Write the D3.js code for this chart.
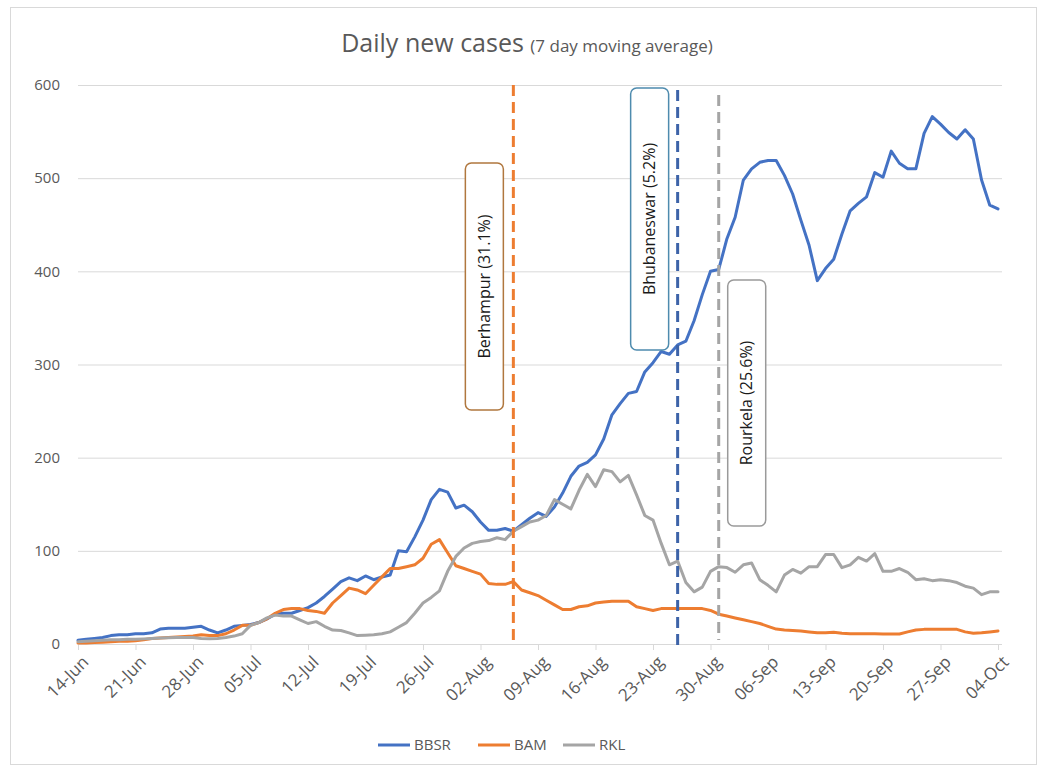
<!DOCTYPE html>
<html>
<head>
<meta charset="utf-8">
<script src="https://cdn.jsdelivr.net/npm/d3@7"></script>
<style>
  html, body { margin: 0; padding: 0; background: #ffffff; }
  svg { display: block; }
  text { font-family: "Open Sans", "Noto Sans", sans-serif; }
</style>
</head>
<body>
<svg id="chart" width="1045" height="773"></svg>
<script>
// Daily new cases, 7-day moving average, one value per day from 14-Jun
const startDate = "14-Jun-2020";
const bbsr = [4, 5, 6, 7, 9, 10, 10, 11, 11, 12, 16, 17, 17, 17, 18, 19, 15, 12, 15, 19,
  20, 21, 23, 27, 32, 33, 33, 36, 39, 44, 51, 59, 67, 71, 68, 73, 69, 72, 74, 100,
  99, 115, 133, 155, 166, 163, 146, 149, 142, 131, 122, 122, 124, 121, 128, 135, 141, 137, 147, 162,
  180, 191, 195, 203, 220, 246, 258, 269, 271, 292, 302, 314, 311, 321, 325, 347, 375, 400, 402, 435,
  458, 498, 510, 517, 519, 519, 503, 483, 455, 428, 390, 403, 413, 440, 465, 473, 480, 506, 501, 529,
  516, 510, 510, 548, 566, 558, 549, 542, 552, 542, 498, 471, 467];
const bam = [1, 1, 1.5, 2, 2.5, 3, 3, 3.5, 4.5, 6, 6.5, 7, 7.5, 8, 8.6, 10, 9, 9, 11, 15,
  20, 20, 23, 27, 33, 37, 38, 38, 36, 35, 33, 44, 52, 60, 58, 54, 63, 72, 81, 81,
  83, 85, 92, 107, 112, 98, 84, 81, 78, 75, 65, 64, 64, 67, 58, 55, 52, 47, 42, 37,
  37, 40, 41, 44, 45, 46, 46, 46, 40, 38, 36, 38, 38, 38, 38, 38, 38, 36, 32, 30,
  28, 26, 24, 22, 19, 16, 15, 14.5, 14, 13, 12, 12, 12.5, 11.5, 11, 11, 11, 11, 10.7, 10.7,
  10.7, 13, 15, 15.7, 15.7, 15.7, 15.7, 15.7, 13, 11.5, 12, 13, 14];
const rkl = [2.5, 3, 3.5, 4, 4.5, 4.5, 5, 5, 5.5, 6, 6.5, 6.8, 7, 7, 7, 6, 5.7, 6, 7, 8.5,
  11, 20, 23, 28, 31, 30, 30, 26, 22, 24, 19, 15, 14.5, 12, 9, 9.5, 10, 11, 13, 18,
  23, 33, 44, 50, 57, 78, 94, 103, 108, 110, 111, 114, 112, 121, 126, 131, 133, 138, 155, 150,
  145, 165, 182, 169, 187, 185, 174, 181, 160, 138, 133, 108, 85, 89, 66, 56, 61, 78, 83, 82,
  77, 85, 87, 69, 63, 56, 74, 80, 76, 83, 83, 96, 96, 82, 85, 93, 89, 97, 78, 78,
  81, 77, 69, 70, 68, 69, 68, 66, 62, 60, 53, 56, 56];

const seriesNames = ["BBSR", "BAM", "RKL"];
const seriesColors = ["#4472C4", "#ED7D31", "#A5A5A5"];

const tickLabels = ["14-Jun", "21-Jun", "28-Jun", "05-Jul", "12-Jul", "19-Jul", "26-Jul",
  "02-Aug", "09-Aug", "16-Aug", "23-Aug", "30-Aug", "06-Sep", "13-Sep", "20-Sep", "27-Sep", "04-Oct"];
const yTicks = [0, 100, 200, 300, 400, 500, 600];

// Dates when each city's marker line is drawn, with its label
const markerNames = ["Berhampur (31.1%)", "Bhubaneswar (5.2%)", "Rourkela (25.6%)"];
const markerDates = ["06-Aug", "26-Aug", "31-Aug"];
const markerColors = ["#ED7D31", "#3D63A8", "#A5A5A5"];
const markerBorders = ["#B0773E", "#4E8BAE", "#9A9A9A"];

const parseDay = d3.timeParse("%d-%b-%Y");
const day0 = parseDay(startDate);
const dates = bbsr.map((_, i) => d3.timeDay.offset(day0, i));
const asDate = s => parseDay(s + "-2020");

const svg = d3.select("#chart");

// chart area border
svg.append("rect")
  .attr("x", 10.5).attr("y", 7.5).attr("width", 1026).attr("height", 757)
  .attr("fill", "#fff").attr("stroke", "#d9d9d9").attr("stroke-width", 1);

const plot = { left: 78, right: 998, top: 85, bottom: 644 };

const x = d3.scaleTime()
  .domain([asDate(tickLabels[0]), asDate(tickLabels[tickLabels.length - 1])])
  .range([plot.left, plot.right]);
const y = d3.scaleLinear().domain([0, 600]).range([plot.bottom, plot.top]);

// title
const title = svg.append("text")
  .attr("x", 527).attr("y", 52)
  .attr("text-anchor", "middle")
  .attr("fill", "#595959");
title.append("tspan").attr("font-size", 25).text("Daily new cases ");
title.append("tspan").attr("font-size", 17).text("(7 day moving average)");

// horizontal gridlines + y labels
const yAxis = d3.axisLeft(y).tickValues(yTicks).tickSize(-(plot.right + 4 - plot.left)).tickPadding(18);
const gy = svg.append("g").attr("transform", `translate(${plot.left},0)`).call(yAxis);
gy.select(".domain").remove();
gy.selectAll(".tick line").attr("stroke", "#d9d9d9").attr("stroke-width", 1);
gy.selectAll(".tick text")
  .attr("fill", "#595959").attr("font-size", 15)
  .attr("font-family", "'Open Sans', sans-serif");

// x axis with rotated date labels
const xAxis = d3.axisBottom(x)
  .tickValues(tickLabels.map(asDate))
  .tickFormat((d, i) => tickLabels[i])
  .tickSize(6).tickSizeOuter(0).tickPadding(4);
const gx = svg.append("g").attr("transform", `translate(0,${plot.bottom})`).call(xAxis);
gx.select(".domain").attr("stroke", "#d9d9d9").attr("d", `M${plot.left},0.5H${plot.right + 4}`);
gx.selectAll(".tick line").attr("stroke", "#d9d9d9");
gx.selectAll(".tick text")
  .attr("fill", "#595959").attr("font-size", 17)
  .attr("font-family", "'Open Sans', sans-serif")
  .attr("text-anchor", "end")
  .attr("dy", "0.35em")
  .attr("transform", "translate(7,15) rotate(-45)")
  .attr("y", 0).attr("x", 0);

// series lines
const line = d3.line().x((d, i) => x(dates[i])).y(d => y(d));
[bbsr, bam, rkl].forEach((vals, k) => {
  svg.append("path")
    .datum(vals)
    .attr("fill", "none")
    .attr("stroke", seriesColors[k])
    .attr("stroke-width", 3)
    .attr("stroke-linejoin", "round")
    .attr("stroke-linecap", "round")
    .attr("d", line);
});

// dashed marker lines and their labelled boxes
const markerSpan = [[85, 640], [90, 648], [95, 640]];
const boxLayout = [
  { dx: -48, top: 163, bottom: 410 },
  { dx: -47, top: 88, bottom: 350 },
  { dx: 9, top: 280, bottom: 526 }
];
markerDates.forEach((ds, k) => {
  const mx = x(asDate(ds));
  svg.append("line")
    .attr("x1", mx).attr("x2", mx)
    .attr("y1", markerSpan[k][0]).attr("y2", markerSpan[k][1])
    .attr("stroke", markerColors[k]).attr("stroke-width", 3)
    .attr("stroke-dasharray", "11,6");
  const b = boxLayout[k];
  const bx = mx + b.dx;
  svg.append("rect")
    .attr("x", bx).attr("y", b.top)
    .attr("width", 38).attr("height", b.bottom - b.top)
    .attr("rx", 6).attr("ry", 6)
    .attr("fill", "#ffffff")
    .attr("stroke", markerBorders[k]).attr("stroke-width", 1.5);
  const cx = bx + 19, cy = (b.top + b.bottom) / 2;
  svg.append("text")
    .attr("transform", `translate(${cx},${cy}) rotate(-90)`)
    .attr("text-anchor", "middle").attr("dy", "0.35em")
    .attr("font-size", 16).attr("fill", "#1a1a1a")
    .text(markerNames[k]);
});

// legend
const legendX = [378, 478, 563];
seriesNames.forEach((name, k) => {
  const g = svg.append("g").attr("transform", `translate(${legendX[k]},745)`);
  g.append("line").attr("x1", 0).attr("x2", 32).attr("y1", 0).attr("y2", 0)
    .attr("stroke", seriesColors[k]).attr("stroke-width", 3);
  g.append("text").attr("x", 36).attr("dy", "0.35em")
    .attr("font-size", 15).attr("fill", "#595959").text(name);
});
</script>
</body>
</html>
